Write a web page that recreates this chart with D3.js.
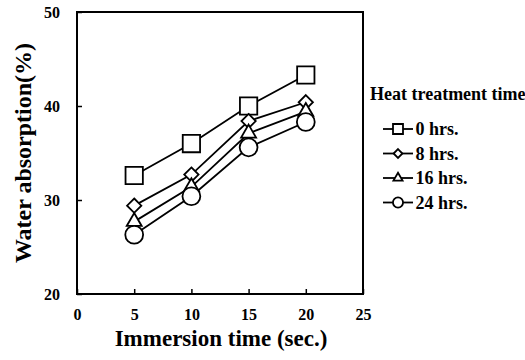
<!DOCTYPE html>
<html>
<head>
<meta charset="utf-8">
<script src="https://cdn.jsdelivr.net/npm/d3@7"></script>
<style>
  body { margin: 0; background: #fff; }
  svg text { font-family: 'Liberation Serif', 'Times New Roman', serif; font-weight: bold; fill: #000; }
</style>
</head>
<body>
<div id="chart"></div>
<script>
// immersion time (sec.)
const times = [5, 10, 15, 20]
const seriesNames = ['0 hrs.', '8 hrs.', '16 hrs.', '24 hrs.']
const hrs0 = [32.6, 36.0, 40.0, 43.3]
const hrs8 = [29.4, 32.7, 38.4, 40.4]
const hrs16 = [27.7, 31.4, 37.1, 39.4]
const hrs24 = [26.3, 30.4, 35.6, 38.3]
const xTicks = [0, 5, 10, 15, 20, 25]
const yTicks = [20, 30, 40, 50]

const width = 525, height = 360
const margin = {top: 12, right: 162, bottom: 66, left: 77}

const svg = d3.select('#chart').append('svg')
  .attr('width', width)
  .attr('height', height)

const x = d3.scaleLinear().domain([0, 25]).range([margin.left, width - margin.right])
const y = d3.scaleLinear().domain([20, 50]).range([height - margin.bottom, margin.top])

// axes, ticks pointing inward
const xAxis = svg.append('g')
  .attr('transform', `translate(0,${y(20)})`)
  .call(d3.axisBottom(x).tickValues(xTicks).tickSizeInner(-5).tickSizeOuter(0).tickPadding(15))
xAxis.select('.domain').remove()

const yAxis = svg.append('g')
  .attr('transform', `translate(${x(0)},0)`)
  .call(d3.axisLeft(y).tickValues(yTicks).tickSizeInner(-5).tickSizeOuter(0).tickPadding(17))
yAxis.select('.domain').remove()

svg.selectAll('.tick text')
  .attr('font-size', 16)
  .style('font-family', 'Liberation Serif')
  .style('font-weight', 'bold')
svg.selectAll('.tick line').attr('stroke', '#000').attr('stroke-width', 1.5)

svg.append('rect')
  .attr('x', x(0)).attr('y', y(50))
  .attr('width', x(25) - x(0)).attr('height', y(20) - y(50))
  .attr('fill', 'none').attr('stroke', '#000').attr('stroke-width', 2)

// axis titles
svg.append('text')
  .attr('x', (x(0) + x(25)) / 2 + 1).attr('y', 346)
  .attr('text-anchor', 'middle').attr('font-size', 23)
  .text('Immersion time (sec.)')

svg.append('text')
  .attr('transform', `translate(31,${(y(20) + y(50)) / 2}) rotate(-90)`)
  .attr('text-anchor', 'middle').attr('font-size', 24)
  .text('Water absorption(%)')

const symbols = [d3.symbolSquare, d3.symbolDiamond2, d3.symbolTriangle2, d3.symbolCircle]
const sizes = [300, 130, 160, 250]
const legendSizes = [100, 50, 60, 80]
const allSeries = [hrs0, hrs8, hrs16, hrs24]

const line = d3.line()
  .x((d, i) => x(times[i]))
  .y(d => y(d))

allSeries.forEach(vals => {
  svg.append('path')
    .attr('d', line(vals))
    .attr('fill', 'none').attr('stroke', '#000').attr('stroke-width', 1.8)
})

allSeries.forEach((vals, s) => {
  svg.selectAll(null)
    .data(vals)
    .enter()
    .append('path')
    .attr('d', d3.symbol().type(symbols[s]).size(sizes[s]))
    .attr('transform', (d, i) => `translate(${x(times[i])},${y(d)})`)
    .attr('fill', '#fff').attr('stroke', '#000').attr('stroke-width', 1.8)
})

// legend
const legend = svg.append('g')
legend.append('text')
  .attr('x', 370).attr('y', 100)
  .attr('font-size', 18)
  .text('Heat treatment time')

seriesNames.forEach((name, s) => {
  const ly = 129 + s * 24.5
  legend.append('line')
    .attr('x1', 383).attr('x2', 413).attr('y1', ly).attr('y2', ly)
    .attr('stroke', '#000').attr('stroke-width', 1.8)
  legend.append('path')
    .attr('d', d3.symbol().type(symbols[s]).size(legendSizes[s]))
    .attr('transform', `translate(398,${ly})`)
    .attr('fill', '#fff').attr('stroke', '#000').attr('stroke-width', 1.8)
  legend.append('text')
    .attr('x', 415.5).attr('y', ly + 6)
    .attr('font-size', 18)
    .text(name)
})
</script>
</body>
</html>
